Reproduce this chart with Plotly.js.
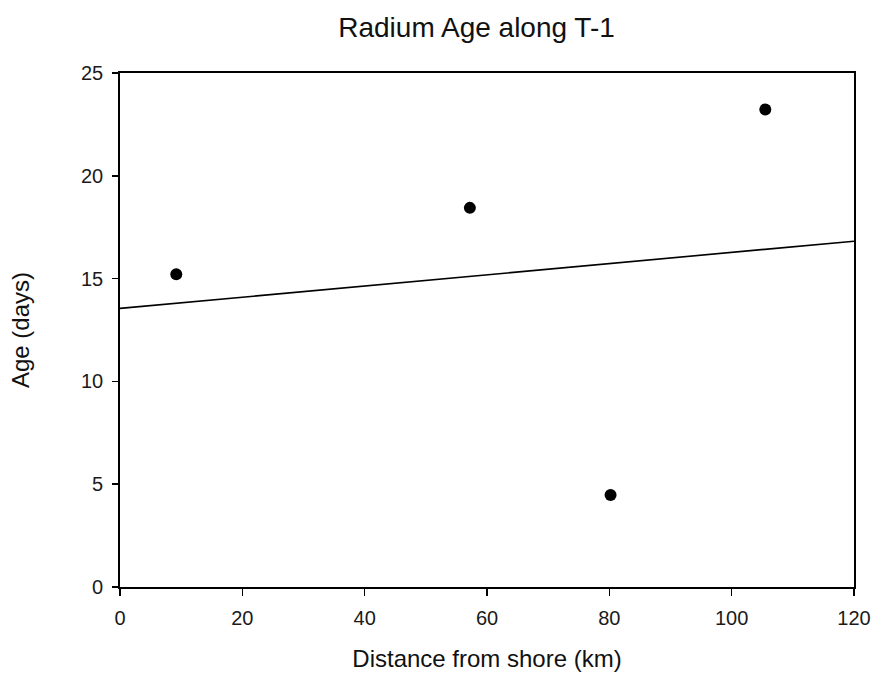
<!DOCTYPE html>
<html>
<head>
<meta charset="utf-8">
<script src="https://cdn.plot.ly/plotly-3.0.1.min.js"></script>
<style>html,body{margin:0;padding:0;background:#fff;}#chart{width:876px;height:677px;}</style>
</head>
<body>
<div id="chart"></div>
<script>
const distanceKm = [9.2, 57.2, 80.2, 105.5];
const ageDays = [15.21, 18.44, 4.47, 23.23];
const fitX = [0, 120];
const fitY = [13.55, 16.82];
const xTicks = [0, 20, 40, 60, 80, 100, 120];
const yTicks = [0, 5, 10, 15, 20, 25];

const font = 'Arial, "Liberation Sans", sans-serif';
const data = [
  {x: fitX, y: fitY, type: 'scatter', mode: 'lines', line: {color: '#000', width: 1.6}, hoverinfo: 'skip'},
  {x: distanceKm, y: ageDays, type: 'scatter', mode: 'markers', marker: {color: '#000', size: 12}, cliponaxis: false}
];
const axisCommon = {
  showgrid: false, zeroline: false, showline: true, linecolor: '#000', linewidth: 1.8,
  mirror: true, ticks: 'outside', ticklen: 7, tickwidth: 1.6, tickcolor: '#000',
  tickfont: {family: font, size: 20, color: '#1a1a1a'}
};
const layout = {
  width: 876, height: 677,
  margin: {l: 120, r: 22, t: 73, b: 90},
  paper_bgcolor: '#fff', plot_bgcolor: '#fff',
  showlegend: false,
  title: {text: 'Radium Age along T-1', font: {family: font, size: 28, color: '#111'}, x: 0.544, xanchor: 'center', y: 0.96, yanchor: 'middle'},
  xaxis: Object.assign({}, axisCommon, {range: [0, 120], tickvals: xTicks, ticktext: xTicks.map(String), ticklabelstandoff: 5,
    title: {text: 'Distance from shore (km)', font: {family: font, size: 24, color: '#111'}, standoff: 22}}),
  yaxis: Object.assign({}, axisCommon, {range: [0, 25], tickvals: yTicks, ticktext: yTicks.map(String), ticklen: 6, ticklabelstandoff: 5,
    title: {text: 'Age (days)', font: {family: font, size: 24, color: '#111'}, standoff: 44}})
};
Plotly.newPlot('chart', data, layout, {displayModeBar: false, staticPlot: true});
</script>
</body>
</html>
